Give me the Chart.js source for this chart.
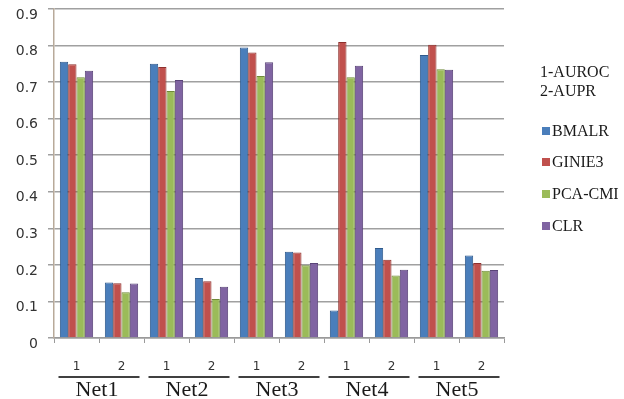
<!DOCTYPE html>
<html>
<head>
<meta charset="utf-8">
<script src="https://cdn.jsdelivr.net/npm/chart.js@4.4.1/dist/chart.umd.min.js"></script>
<style>
  html, body { margin: 0; padding: 0; background: #ffffff; }
  #wrap { width: 624px; height: 399px; position: relative; }
</style>
</head>
<body>
<div id="wrap"><canvas id="c" width="624" height="399"></canvas></div>
<script>
// Measure index (1 = AUROC, 2 = AUPR) for each network
const categories = ['1', '2', '1', '2', '1', '2', '1', '2', '1', '2'];
const networks = ['Net1', 'Net2', 'Net3', 'Net4', 'Net5'];
const measureNotes = ['1-AUROC', '2-AUPR'];

const seriesNames = ['BMALR', 'GINIE3', 'PCA-CMI', 'CLR'];
const bmalr  = [0.756, 0.152, 0.750, 0.164, 0.795, 0.236, 0.075, 0.246, 0.774, 0.226];
const ginie3 = [0.749, 0.150, 0.741, 0.155, 0.781, 0.234, 0.810, 0.214, 0.802, 0.205];
const pcacmi = [0.713, 0.125, 0.676, 0.107, 0.717, 0.199, 0.713, 0.171, 0.735, 0.184];
const clr    = [0.731, 0.149, 0.706, 0.140, 0.754, 0.205, 0.745, 0.187, 0.734, 0.186];

const yTicks = [0, 0.1, 0.2, 0.3, 0.4, 0.5, 0.6, 0.7, 0.8, 0.9];

const fills   = ['#4a7ebb', '#c0504d', '#9bbb59', '#8064a2'];
const borders = ['#2f5a8c', '#8e302d', '#6f8a3a', '#5a4478'];

const seriesValues = [bmalr, ginie3, pcacmi, clr];

const datasets = seriesNames.map((name, i) => ({
  label: name,
  data: seriesValues[i],
  backgroundColor: fills[i],
  borderColor: borders[i],
  borderWidth: 1,
  categoryPercentage: 0.74,
  barPercentage: 1.0
}));

// Group captions under each pair of measures, with a rule above them
const groupLabels = {
  id: 'groupLabels',
  afterDraw(chart) {
    const { ctx } = chart;
    const x = chart.scales.x;
    ctx.save();
    networks.forEach((net, g) => {
      const a = x.getPixelForValue(2 * g);
      const b = x.getPixelForValue(2 * g + 1);
      ctx.strokeStyle = '#404040';
      ctx.lineWidth = 2;
      ctx.beginPath();
      ctx.moveTo(a - 18, 377);
      ctx.lineTo(b + 18, 377);
      ctx.stroke();
      ctx.fillStyle = '#1a1a1a';
      ctx.font = '22px "Liberation Serif", "Times New Roman", serif';
      ctx.textAlign = 'center';
      ctx.textBaseline = 'middle';
      ctx.fillText(net, (a + b) / 2 - 2, 390);
    });
    ctx.restore();
  }
};

// Side legend: measure key followed by the series swatches
const sideLegend = {
  id: 'sideLegend',
  afterDraw(chart) {
    const { ctx } = chart;
    ctx.save();
    ctx.fillStyle = '#1a1a1a';
    ctx.font = '16px "Liberation Serif", "Times New Roman", serif';
    ctx.textAlign = 'left';
    ctx.textBaseline = 'middle';
    measureNotes.forEach((t, i) => ctx.fillText(t, 540, 73 + i * 19));
    const rows = [131, 162, 194, 226];
    chart.data.datasets.forEach((ds, i) => {
      ctx.fillStyle = ds.backgroundColor;
      ctx.fillRect(542, rows[i] - 4, 8, 8);
      ctx.fillStyle = '#1a1a1a';
      ctx.fillText(ds.label, 552, rows[i] + 1);
    });
    ctx.restore();
  }
};

new Chart(document.getElementById('c'), {
  type: 'bar',
  data: { labels: categories, datasets },
  options: {
    responsive: false,
    animation: false,
    layout: { padding: { top: 9, right: 120, bottom: 0, left: 0 } },
    plugins: {
      legend: { display: false },
      tooltip: { enabled: false }
    },
    scales: {
      x: {
        afterFit(s) { s.height = 61; },
        border: { display: true, color: '#9a9a9a', width: 1.5 },
        grid: { display: true, drawOnChartArea: false, drawTicks: true, tickLength: 5, color: '#9a9a9a', offset: true },
        ticks: {
          color: '#333333',
          padding: 17,
          font: { family: '"DejaVu Sans", Verdana, sans-serif', size: 12 }
        }
      },
      y: {
        min: 0,
        max: 0.9,
        afterFit(s) { s.width = 54; s.paddingTop = 0; s.paddingBottom = 0; },
        afterBuildTicks(s) { s.ticks = yTicks.map(v => ({ value: v })); },
        border: { display: true, color: '#b8aa9a', width: 1.5 },
        grid: { color: '#a0a0a0', lineWidth: 1.5, drawTicks: true, tickLength: 6 },
        ticks: {
          color: '#333333',
          padding: 10,
          labelOffset: 6,
          font: { family: '"DejaVu Sans", Verdana, sans-serif', size: 14 },
          callback: v => (v === 0 ? '0' : v.toFixed(1))
        }
      }
    }
  },
  plugins: [groupLabels, sideLegend]
});
</script>
</body>
</html>
